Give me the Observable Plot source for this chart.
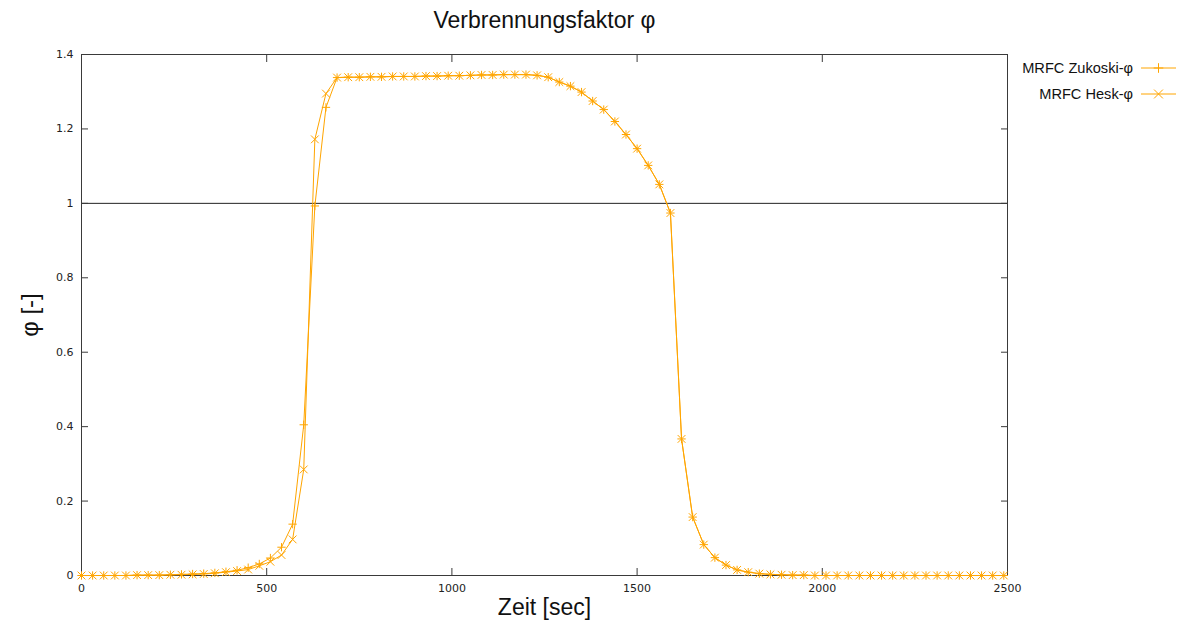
<!DOCTYPE html>
<html>
<head>
<meta charset="utf-8">
<script src="https://cdn.jsdelivr.net/npm/d3@7"></script>
<script src="https://cdn.jsdelivr.net/npm/@observablehq/plot@0.6"></script>
<style>
  html, body { margin: 0; padding: 0; background: #fff; }
  #chart svg { display: block; }
</style>
</head>
<body>
<div id="chart"></div>
<script>
// Zeitpunkte [sec]
const zeit = [
  0, 30, 60, 90, 120, 150, 180, 210, 240, 270,
  300, 330, 360, 390, 420, 450, 480, 510, 540, 570,
  600, 630, 660, 690, 720, 750, 780, 810, 840, 870,
  900, 930, 960, 990, 1020, 1050, 1080, 1110, 1140, 1170,
  1200, 1230, 1260, 1290, 1320, 1350, 1380, 1410, 1440, 1470,
  1500, 1530, 1560, 1590, 1620, 1650, 1680, 1710, 1740, 1770,
  1800, 1830, 1860, 1890, 1920, 1950, 1980, 2010, 2040, 2070,
  2100, 2130, 2160, 2190, 2220, 2250, 2280, 2310, 2340, 2370,
  2400, 2430, 2460, 2490
];

// Verbrennungsfaktor nach Zukoski
const phiZukoski = [
  0.000, 0.000, 0.000, 0.000, 0.000, 0.001, 0.001, 0.001, 0.002, 0.003,
  0.004, 0.005, 0.007, 0.010, 0.014, 0.021, 0.031, 0.047, 0.076, 0.138,
  0.405, 0.993, 1.258, 1.338, 1.339, 1.339, 1.340, 1.340, 1.341, 1.341,
  1.341, 1.342, 1.342, 1.343, 1.343, 1.344, 1.345, 1.345, 1.346, 1.346,
  1.346, 1.344, 1.339, 1.326, 1.315, 1.299, 1.275, 1.252, 1.220, 1.185,
  1.147, 1.102, 1.051, 0.974, 0.367, 0.157, 0.083, 0.048, 0.028, 0.015,
  0.009, 0.005, 0.003, 0.002, 0.001, 0.001, 0.000, 0.000, 0.000, 0.000,
  0.000, 0.000, 0.000, 0.000, 0.000, 0.000, 0.000, 0.000, 0.000, 0.000,
  0.000, 0.000, 0.000, 0.000
];

// Verbrennungsfaktor nach Hesk
const phiHesk = [
  0.000, 0.000, 0.000, 0.000, 0.000, 0.001, 0.001, 0.001, 0.002, 0.002,
  0.003, 0.004, 0.006, 0.009, 0.012, 0.016, 0.026, 0.037, 0.055, 0.097,
  0.285, 1.172, 1.295, 1.338, 1.339, 1.339, 1.340, 1.340, 1.341, 1.341,
  1.341, 1.342, 1.342, 1.343, 1.343, 1.344, 1.345, 1.345, 1.346, 1.346,
  1.346, 1.344, 1.339, 1.326, 1.315, 1.299, 1.275, 1.252, 1.220, 1.185,
  1.147, 1.102, 1.051, 0.974, 0.367, 0.157, 0.083, 0.048, 0.028, 0.015,
  0.009, 0.005, 0.003, 0.002, 0.001, 0.001, 0.000, 0.000, 0.000, 0.000,
  0.000, 0.000, 0.000, 0.000, 0.000, 0.000, 0.000, 0.000, 0.000, 0.000,
  0.000, 0.000, 0.000, 0.000
];

const xTicks = [0, 500, 1000, 1500, 2000, 2500];
const yTicks = [0, 0.2, 0.4, 0.6, 0.8, 1, 1.2, 1.4];

const seriesNames = ["MRFC Zukoski-φ", "MRFC Hesk-φ"];
const seriesSymbols = ["plus", "times"];
const orange = "#ffa500";

const zukoski = zeit.map((t, i) => ({t, phi: phiZukoski[i]}));
const hesk = zeit.map((t, i) => ({t, phi: phiHesk[i]}));

const labelFont = "'Liberation Sans', Arial, sans-serif";
const frameColor = "#3a3a3a";

const chart = Plot.plot({
  width: 1179,
  height: 623,
  marginLeft: 81,
  marginRight: 172,
  marginTop: 54,
  marginBottom: 48,
  style: {background: "#fff", fontFamily: "'DejaVu Sans', sans-serif", fontSize: "11px", color: "#222"},
  x: {domain: [0, 2500]},
  y: {domain: [0, 1.4]},
  marks: [
    // Referenzlinie φ = 1
    Plot.ruleY([1], {stroke: "#222", strokeWidth: 1}),
    // Achsenbeschriftung (Zahlen)
    Plot.axisX(xTicks, {anchor: "bottom", tickSize: 0, tickPadding: 9, label: null, tickFormat: d => String(d), fill: "#222"}),
    Plot.axisY(yTicks, {anchor: "left", tickSize: 0, tickPadding: 8, label: null, tickFormat: d => String(d), fill: "#222"}),
    // nach innen zeigende Teilstriche auf allen vier Seiten
    Plot.axisX(xTicks, {anchor: "bottom", tickSize: -7, tickFormat: () => "", label: null, stroke: frameColor}),
    Plot.axisX(xTicks, {anchor: "top", tickSize: -7, tickFormat: () => "", label: null, stroke: frameColor}),
    Plot.axisY(yTicks, {anchor: "left", tickSize: -7, tickFormat: () => "", label: null, stroke: frameColor}),
    Plot.axisY(yTicks, {anchor: "right", tickSize: -7, tickFormat: () => "", label: null, stroke: frameColor}),
    Plot.frame({stroke: frameColor, strokeWidth: 1}),
    // Messreihen
    Plot.line(zukoski, {x: "t", y: "phi", stroke: orange, strokeWidth: 1}),
    Plot.line(hesk, {x: "t", y: "phi", stroke: orange, strokeWidth: 1}),
    Plot.dot(zukoski, {x: "t", y: "phi", symbol: seriesSymbols[0], r: 2.8, stroke: orange, strokeWidth: 1}),
    Plot.dot(hesk, {x: "t", y: "phi", symbol: seriesSymbols[1], r: 3.6, stroke: orange, strokeWidth: 1}),
    // Titel und Achsentitel
    Plot.text(["Verbrennungsfaktor φ"], {frameAnchor: "top", dy: -34, lineAnchor: "middle", textAnchor: "middle", fontSize: 23, fontFamily: labelFont, fill: "#111"}),
    Plot.text(["Zeit [sec]"], {frameAnchor: "bottom", dy: 32, lineAnchor: "middle", textAnchor: "middle", fontSize: 23, fontFamily: labelFont, fill: "#111"}),
    Plot.text(["φ [-]"], {frameAnchor: "left", dx: -51, rotate: -90, lineAnchor: "middle", textAnchor: "middle", fontSize: 24, fontFamily: labelFont, fill: "#111"})
  ]
});

document.getElementById("chart").appendChild(chart);

// Legende rechts oben, außerhalb des Diagrammrahmens
const svg = d3.select(chart);
const legend = svg.append("g").attr("font-family", labelFont).attr("font-size", 14.6);
const symbolMap = {plus: d3.symbolPlus, times: d3.symbolTimes};
const symbolSize = {plus: Math.PI * 2.8 * 2.8, times: Math.PI * 3.6 * 3.6};
seriesNames.forEach((name, i) => {
  const y = 68 + i * 26;
  legend.append("text")
    .attr("x", 1133).attr("y", y)
    .attr("text-anchor", "end").attr("dy", "0.35em")
    .attr("fill", "#111")
    .text(name);
  legend.append("line")
    .attr("x1", 1141).attr("x2", 1176).attr("y1", y).attr("y2", y)
    .attr("stroke", orange).attr("stroke-width", 1);
  legend.append("path")
    .attr("transform", `translate(1158.5,${y})`)
    .attr("d", d3.symbol(symbolMap[seriesSymbols[i]], symbolSize[seriesSymbols[i]] * 1.3)())
    .attr("fill", "none").attr("stroke", orange).attr("stroke-width", 1);
});
</script>
</body>
</html>
